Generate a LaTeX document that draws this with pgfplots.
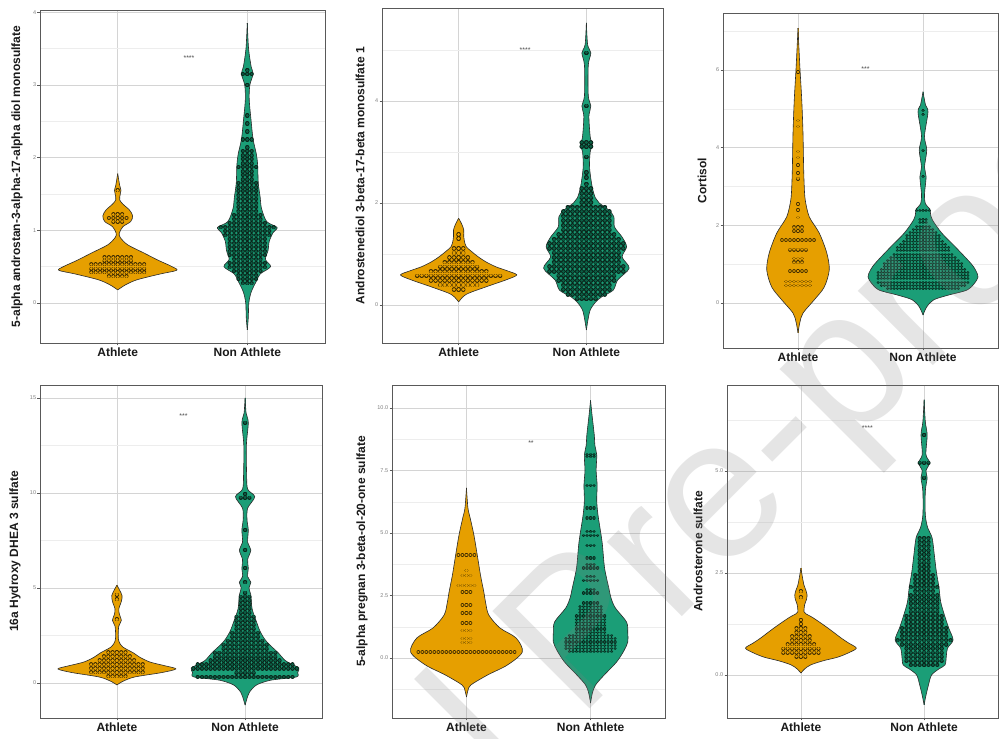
\documentclass[border=0pt]{standalone}
\usepackage{fontspec}
\setmainfont{Liberation Sans}
\usepackage{pgfplots}
\usepackage{pgfplotstable}
\pgfplotsset{compat=1.18}

\definecolor{vorange}{HTML}{E69F00}
\definecolor{vgreen}{HTML}{1B9E77}
\definecolor{dgreen}{HTML}{0B5F45}
\definecolor{dlineA}{HTML}{3D2B00}
\definecolor{dlineN}{HTML}{0A241A}
\definecolor{vline}{HTML}{2B2B2B}
\definecolor{gridmaj}{HTML}{D4D4D4}
\definecolor{gridmin}{HTML}{EDEDED}
\definecolor{framec}{HTML}{595959}
\definecolor{labc}{HTML}{1A1A1A}
\definecolor{tickc}{HTML}{808080}
\definecolor{starc}{HTML}{4D4D4D}

% ---------------- Panel a ----------------
\pgfplotstableread{
y w
0.18 0
0.25 0.06
0.32 0.15
0.40 0.33
0.45 0.455
0.50 0.42
0.59 0.31
0.69 0.20
0.80 0.077
0.90 0.02
0.96 0.012
1.05 0.04
1.12 0.10
1.20 0.115
1.28 0.09
1.36 0.04
1.42 0.015
1.50 0.02
1.55 0.025
1.62 0.015
1.78 0
}\vAa
\pgfplotstableread{
y h
0.37 0.10
0.42 0.22
0.47 0.22
0.53 0.22
0.58 0.13
0.63 0.11
1.12 0.05
1.17 0.077
1.22 0.06
1.55 0.003
}\dAa
\pgfplotstableread{
y w
-0.37 0
-0.20 0.008
0.00 0.012
0.15 0.03
0.30 0.07
0.40 0.10
0.50 0.18
0.60 0.14
0.72 0.16
0.85 0.17
0.97 0.20
1.04 0.23
1.12 0.15
1.30 0.11
1.45 0.10
1.65 0.085
1.90 0.08
2.05 0.07
2.25 0.045
2.50 0.03
2.80 0.015
3.00 0.02
3.15 0.045
3.25 0.03
3.50 0.01
3.85 0
}\vNa
\pgfplotstableread{
y h
0.27 0.06
0.33 0.07
0.38 0.09
0.44 0.12
0.49 0.17
0.55 0.14
0.60 0.13
0.66 0.14
0.71 0.155
0.77 0.155
0.82 0.16
0.88 0.16
0.93 0.18
0.99 0.19
1.04 0.22
1.10 0.14
1.15 0.13
1.21 0.11
1.26 0.10
1.32 0.10
1.37 0.09
1.43 0.09
1.48 0.08
1.54 0.075
1.59 0.075
1.65 0.075
1.70 0.06
1.76 0.05
1.81 0.06
1.87 0.077
1.92 0.06
1.98 0.05
2.03 0.065
2.09 0.05
2.14 0.03
2.25 0.04
2.36 0.03
2.47 0.03
2.58 0.02
3.00 0.02
3.15 0.04
3.20 0.03
}\dNa

% ---------------- Panel b ----------------
\pgfplotstableread{
y w
0.06 0
0.15 0.03
0.23 0.077
0.36 0.22
0.50 0.38
0.59 0.455
0.67 0.38
0.75 0.29
0.85 0.21
0.95 0.15
1.05 0.10
1.14 0.06
1.25 0.045
1.34 0.04
1.47 0.04
1.58 0.025
1.70 0
}\vAb
\pgfplotstableread{
y h
0.30 0.07
0.39 0.15
0.48 0.25
0.57 0.33
0.66 0.25
0.75 0.18
0.84 0.13
0.93 0.10
1.02 0.07
1.11 0.04
1.30 0.02
1.38 0.02
}\dAb
\pgfplotstableread{
y w
-0.49 0
-0.30 0.012
-0.10 0.03
0.05 0.07
0.16 0.12
0.29 0.21
0.49 0.245
0.72 0.335
0.94 0.28
1.14 0.315
1.33 0.28
1.53 0.22
1.73 0.215
1.86 0.175
2.00 0.10
2.10 0.07
2.32 0.045
2.70 0.025
3.00 0.03
3.14 0.045
3.30 0.03
3.70 0.02
3.90 0.035
4.10 0.015
4.70 0.015
4.94 0.035
5.10 0.01
5.53 0
}\vNb
\pgfplotstableread{
y h
0.12 0.09
0.21 0.15
0.30 0.20
0.39 0.20
0.48 0.23
0.57 0.23
0.66 0.30
0.75 0.32
0.84 0.27
0.93 0.27
1.02 0.27
1.11 0.30
1.20 0.30
1.29 0.27
1.38 0.25
1.47 0.20
1.56 0.20
1.65 0.20
1.74 0.20
1.83 0.20
1.92 0.15
2.01 0.07
2.10 0.06
2.19 0.04
2.28 0.04
2.37 0.02
2.50 0.02
2.60 0.02
2.90 0.02
3.10 0.04
3.18 0.04
3.90 0.003
4.94 0.003
}\dNb

% ---------------- Panel c ----------------
\pgfplotstableread{
y w
-0.77 0
-0.50 0.015
-0.26 0.04
0.08 0.13
0.41 0.21
0.85 0.25
1.29 0.23
1.80 0.17
2.22 0.09
2.65 0.058
3.00 0.05
3.50 0.045
4.37 0.04
5.23 0.03
6.08 0.015
7.08 0
}\vAc
\pgfplotstableread{
y h
0.45 0.115
0.55 0.115
0.82 0.09
1.05 0.05
1.15 0.05
1.37 0.077
1.62 0.13
1.85 0.04
1.95 0.04
2.20 0.02
2.40 0.003
2.55 0.003
3.20 0.003
3.35 0.003
3.55 0.003
3.75 0.003
3.90 0.003
4.55 0.003
4.70 0.003
5.95 0.003
}\dAc
\pgfplotstableread{
y w
-0.31 0
-0.10 0.03
0.08 0.085
0.20 0.20
0.33 0.35
0.50 0.41
0.67 0.44
0.85 0.42
1.03 0.38
1.44 0.26
1.80 0.15
2.14 0.075
2.30 0.06
2.42 0.055
2.55 0.02
2.80 0.012
3.25 0.025
3.50 0.012
3.94 0.03
4.30 0.012
4.92 0.04
5.10 0.02
5.44 0
}\vNc
\pgfplotstableread{
y h
0.38 0.30
0.46 0.35
0.54 0.37
0.62 0.38
0.70 0.38
0.78 0.36
0.86 0.35
0.94 0.33
1.02 0.31
1.10 0.29
1.18 0.27
1.26 0.25
1.34 0.23
1.42 0.21
1.50 0.19
1.58 0.17
1.66 0.15
1.74 0.13
1.82 0.11
1.90 0.09
1.98 0.07
2.06 0.05
2.14 0.04
2.38 0.06
3.25 0.003
3.94 0.003
4.85 0.003
4.95 0.003
}\dNc

% ---------------- Panel d ----------------
\pgfplotstableread{
y w
-0.10 0
0.10 0.05
0.32 0.14
0.55 0.35
0.74 0.46
0.90 0.38
1.10 0.26
1.35 0.18
1.58 0.13
1.90 0.045
2.20 0.015
2.53 0.01
3.00 0.015
3.30 0.035
3.60 0.02
3.90 0.015
4.30 0.035
4.60 0.04
4.90 0.02
5.15 0
}\vAd
\pgfplotstableread{
y h
0.35 0.10
0.56 0.21
0.77 0.21
0.98 0.21
1.19 0.15
1.40 0.13
1.61 0.08
3.35 0.003
4.40 0.003
4.65 0.003
}\dAd
\pgfplotstableread{
y w
-1.16 0
-0.70 0.02
-0.47 0.035
-0.10 0.09
0.15 0.20
0.32 0.40
0.55 0.41
0.79 0.42
1.00 0.36
1.20 0.31
1.58 0.26
2.16 0.17
2.68 0.12
3.20 0.09
3.90 0.055
4.63 0.045
5.00 0.03
5.30 0.045
5.60 0.02
6.05 0.025
6.50 0.02
7.00 0.045
7.40 0.02
8.05 0.025
8.60 0.015
9.20 0.02
9.80 0.075
10.20 0.02
10.95 0.012
12.50 0.01
13.70 0.025
14.20 0.008
15.00 0
}\vNd
\pgfplotstableread{
y h
0.32 0.38
0.54 0.10
0.76 0.41
0.97 0.37
1.18 0.30
1.39 0.25
1.60 0.24
1.81 0.20
2.02 0.17
2.23 0.15
2.44 0.12
2.65 0.11
2.86 0.10
3.07 0.09
3.28 0.085
3.49 0.07
3.70 0.06
3.91 0.05
4.12 0.05
4.33 0.045
4.54 0.04
4.75 0.003
5.30 0.03
6.05 0.003
7.00 0.03
8.05 0.003
9.75 0.05
9.95 0.03
13.70 0.003
}\dNd

% ---------------- Panel e ----------------
\pgfplotstableread{
y w
-1.56 0
-1.30 0.012
-1.08 0.035
-0.68 0.17
-0.28 0.33
0.24 0.45
0.80 0.40
1.20 0.27
1.72 0.18
2.20 0.155
2.64 0.14
3.32 0.113
4.12 0.087
4.92 0.06
5.60 0.03
6.00 0.012
6.80 0
}\vAe
\pgfplotstableread{
y h
0.24 0.41
0.62 0.05
0.78 0.05
1.10 0.04
1.40 0.05
1.80 0.05
2.12 0.05
2.64 0.05
2.90 0.07
3.30 0.04
3.50 0.02
4.12 0.08
}\dAe
\pgfplotstableread{
y w
-1.80 0
-1.40 0.015
-1.08 0.04
-0.68 0.11
-0.16 0.21
0.30 0.27
0.64 0.30
1.00 0.30
1.44 0.29
2.00 0.20
2.40 0.165
2.80 0.147
3.60 0.113
4.64 0.093
5.72 0.06
6.30 0.05
6.92 0.053
7.50 0.045
8.12 0.05
8.50 0.035
8.92 0.03
9.72 0.012
10.30 0
}\vNe
\pgfplotstableread{
y h
0.25 0.19
0.38 0.20
0.51 0.20
0.64 0.21
0.77 0.20
0.90 0.17
1.03 0.14
1.16 0.13
1.29 0.13
1.42 0.13
1.55 0.13
1.68 0.12
1.81 0.10
1.94 0.10
2.07 0.09
2.20 0.07
2.60 0.08
2.75 0.05
3.10 0.06
3.25 0.04
3.60 0.06
3.75 0.04
4.00 0.05
4.50 0.05
4.90 0.06
5.05 0.04
5.60 0.04
6.00 0.04
6.90 0.03
8.05 0.04
8.15 0.04
}\dNe

% ---------------- Panel f ----------------
\pgfplotstableread{
y w
0.05 0
0.15 0.03
0.25 0.08
0.35 0.18
0.44 0.30
0.55 0.39
0.66 0.45
0.78 0.39
0.90 0.33
1.15 0.22
1.40 0.10
1.50 0.04
1.55 0.025
1.72 0.03
1.85 0.045
1.96 0.05
2.08 0.04
2.20 0.025
2.40 0.012
2.62 0
}\vAf
\pgfplotstableread{
y h
0.45 0.07
0.55 0.15
0.65 0.15
0.75 0.12
0.85 0.10
0.95 0.08
1.05 0.06
1.15 0.05
1.25 0.03
1.35 0.003
1.90 0.03
2.05 0.03
}\dAf
\pgfplotstableread{
y w
-0.73 0
-0.50 0.015
-0.25 0.035
0.00 0.06
0.15 0.12
0.25 0.17
0.45 0.18
0.66 0.19
0.86 0.235
1.15 0.20
1.47 0.165
1.79 0.135
2.16 0.12
2.52 0.10
2.89 0.085
3.36 0.065
3.60 0.03
3.92 0.01
4.50 0.01
4.83 0.025
5.00 0.015
5.20 0.045
5.40 0.015
5.88 0.025
6.20 0.01
6.74 0
}\vNf
\pgfplotstableread{
y h
0.25 0.13
0.35 0.17
0.45 0.17
0.55 0.17
0.65 0.17
0.75 0.19
0.85 0.22
0.95 0.20
1.05 0.18
1.15 0.19
1.25 0.16
1.35 0.15
1.45 0.15
1.55 0.13
1.65 0.12
1.75 0.12
1.85 0.12
1.95 0.11
2.05 0.10
2.15 0.11
2.25 0.09
2.35 0.08
2.45 0.09
2.55 0.07
2.65 0.06
2.75 0.07
2.85 0.06
2.95 0.05
3.05 0.04
3.15 0.05
3.25 0.04
3.35 0.05
4.83 0.003
5.20 0.04
5.88 0.003
}\dNf

% violin: two filled halves (each closed along the centre line), centre seam, outlines
\newcommand{\violin}[3]{%
  \addplot[fill=#3, draw=none, smooth, tension=0.5, forget plot] table[x expr=#2+\thisrow{w}, y=y]{#1};
  \addplot[fill=#3, draw=none, smooth, tension=0.5, forget plot] table[x expr=#2-\thisrow{w}, y=y]{#1};
  \addplot[draw=#3, line width=0.8pt, no markers, forget plot] table[x expr=#2, y=y]{#1};
  \addplot[draw=vline, line width=0.6pt, smooth, tension=0.5, no markers, forget plot] table[x expr=#2+\thisrow{w}, y=y]{#1};
  \addplot[draw=vline, line width=0.6pt, smooth, tension=0.5, no markers, forget plot] table[x expr=#2-\thisrow{w}, y=y]{#1};
}
% #1 table, #2 x, #3 dot fill, #4 outline colour, #5 outer width, #6 inner width, #7 spacing
\newcommand{\drows}[7]{%
  \addplot[draw=none, no markers, forget plot, error bars/.cd, x dir=both, x explicit, error mark=none,
    error bar style={draw=#4, solid, line width=#5pt, line cap=round, dash pattern=on 0.01pt off #7pt}]
    table[x expr=#2, y=y, x error=h]{#1};
  \addplot[draw=none, no markers, forget plot, error bars/.cd, x dir=both, x explicit, error mark=none,
    error bar style={draw=#3, solid, line width=#6pt, line cap=round, dash pattern=on 0.01pt off #7pt}]
    table[x expr=#2, y=y, x error=h]{#1};
}

\tikzset{sigstar/.style={font=\fontsize{7}{7}\selectfont, text=starc}}
\pgfplotsset{
  vp/.style={
    scale only axis, anchor=south west,
    xmin=0.4, xmax=2.6, xtick={1,2}, xticklabels={Athlete,Non Athlete},
    xmajorgrids, ymajorgrids, yminorgrids,
    major grid style={draw=gridmaj, line width=0.6pt},
    minor grid style={draw=gridmin, line width=0.4pt},
    axis line style={draw=framec, line width=0.8pt},
    tick align=outside, major tick length=2.5pt, minor tick length=0pt,
    xtick pos=bottom, ytick pos=left,
    tick style={draw=framec, line width=0.5pt},
    xticklabel style={font=\fontsize{12}{12}\selectfont\bfseries, text=labc, inner sep=2pt},
    yticklabel style={font=\fontsize{5.5}{6}\selectfont, text=tickc, inner sep=1.2pt},
    ylabel style={font=\fontsize{12}{12}\selectfont\bfseries, text=labc, anchor=center},
  },
}

\begin{document}
\begin{tikzpicture}
\fill[white] (0,0) rectangle (999pt,739pt);
\useasboundingbox (0,0) rectangle (999pt,739pt);

% Panel a
\begin{axis}[vp, at={(40pt,396pt)}, width=285pt, height=333pt,
  ymin=-0.55, ymax=4.03, ytick={0,1,2,3,4}, yticklabels={0,1,2,3,4},
  minor ytick={0.5,1.5,2.5,3.5},
  ylabel={5-alpha androstan-3-alpha-17-alpha diol monosulfate},
  ylabel style={at={(axis description cs:-0.081,0.5)}}]
  \violin{\vAa}{1}{vorange}
  \violin{\vNa}{2}{vgreen}
  \drows{\dAa}{1}{vorange}{dlineA}{4.0}{2.8}{4.4}
  \drows{\dNa}{2}{dgreen}{dlineN}{4.2}{2.6}{4.4}
  \node[sigstar] at (axis cs:1.55,3.37) {****};
\end{axis}

% Panel b
\begin{axis}[vp, at={(382pt,396pt)}, width=281pt, height=335pt,
  ymin=-0.745, ymax=5.82, ytick={0,2,4}, yticklabels={0,2,4},
  minor ytick={1,3,5},
  ylabel={Androstenediol 3-beta-17-beta monosulfate 1},
  ylabel style={at={(axis description cs:-0.078,0.5)}}]
  \violin{\vAb}{1}{vorange}
  \violin{\vNb}{2}{vgreen}
  \drows{\dAb}{1}{vorange}{dlineA}{4.4}{3.2}{4.6}
  \drows{\dNb}{2}{dgreen}{dlineN}{4.6}{3.0}{4.6}
  \node[sigstar] at (axis cs:1.52,5.0) {****};
\end{axis}

% Panel c
\begin{axis}[vp, at={(723pt,391pt)}, width=275pt, height=335pt,
  ymin=-1.16, ymax=7.47, ytick={0,2,4,6}, yticklabels={0,2,4,6},
  minor ytick={1,3,5,7},
  ylabel={Cortisol},
  ylabel style={at={(axis description cs:-0.076,0.5)}}]
  \violin{\vAc}{1}{vorange}
  \violin{\vNc}{2}{vgreen}
  \drows{\dAc}{1}{vorange}{dlineA}{3.6}{2.6}{4.0}
  \drows{\dNc}{2}{dgreen}{dlineN}{3.0}{1.9}{3.2}
  \node[sigstar] at (axis cs:1.54,6.03) {***};
\end{axis}

% Panel d
\begin{axis}[vp, at={(40pt,21pt)}, width=282pt, height=333pt,
  ymin=-1.84, ymax=15.68, ytick={0,5,10,15}, yticklabels={0,5,10,15},
  minor ytick={2.5,7.5,12.5},
  ylabel={16a Hydroxy DHEA 3 sulfate},
  ylabel style={at={(axis description cs:-0.089,0.5)}}]
  \violin{\vAd}{1}{vorange}
  \violin{\vNd}{2}{vgreen}
  \drows{\dAd}{1}{vorange}{dlineA}{4.0}{2.8}{4.3}
  \drows{\dNd}{2}{dgreen}{dlineN}{4.2}{2.6}{4.3}
  \node[sigstar] at (axis cs:1.52,14.05) {***};
\end{axis}

% Panel e
\begin{axis}[vp, at={(392pt,21pt)}, width=273pt, height=333pt,
  ymin=-2.4, ymax=10.92, ytick={0,2.5,5,7.5,10}, yticklabels={0.0,2.5,5.0,7.5,10.0},
  minor ytick={-1.25,1.25,3.75,6.25,8.75},
  ylabel={5-alpha pregnan 3-beta-ol-20-one sulfate},
  ylabel style={at={(axis description cs:-0.11,0.5)}}]
  \violin{\vAe}{1}{vorange}
  \violin{\vNe}{2}{vgreen}
  \drows{\dAe}{1}{vorange}{dlineA}{3.6}{2.6}{4.0}
  \drows{\dNe}{2}{dgreen}{dlineN}{3.2}{2.0}{3.5}
  \node[sigstar] at (axis cs:1.52,8.6) {**};
\end{axis}

% Panel f
\begin{axis}[vp, at={(727pt,21pt)}, width=271pt, height=333pt,
  ymin=-1.05, ymax=7.1, ytick={0,2.5,5}, yticklabels={0.0,2.5,5.0},
  minor ytick={1.25,3.75,6.25},
  ylabel={Androsterone sulfate},
  ylabel style={at={(axis description cs:-0.107,0.5)}}]
  \violin{\vAf}{1}{vorange}
  \violin{\vNf}{2}{vgreen}
  \drows{\dAf}{1}{vorange}{dlineA}{4.0}{2.8}{4.4}
  \drows{\dNf}{2}{dgreen}{dlineN}{4.2}{2.6}{4.4}
  \node[sigstar] at (axis cs:1.54,6.05) {****};
\end{axis}

% watermark
\begin{scope}
\clip (0,0) rectangle (999pt,739pt);
\node[rotate=45, anchor=base west, inner sep=0pt, font=\fontsize{200}{200}\selectfont, text=gray, opacity=0.2] at (578pt,18pt) {Pre-proof};
\node[rotate=45, anchor=base east, inner sep=0pt, font=\fontsize{200}{200}\selectfont, text=gray, opacity=0.2] at (539pt,-21pt) {Journal};
\end{scope}
\end{tikzpicture}
\end{document}
